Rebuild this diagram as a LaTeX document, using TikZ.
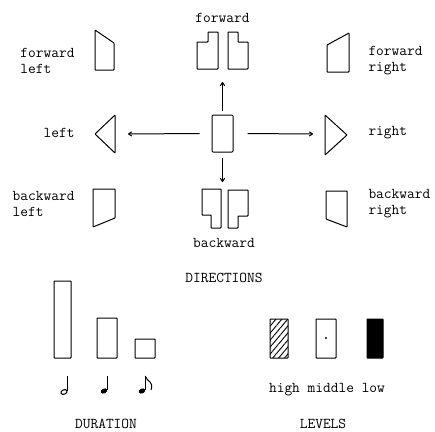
\documentclass[tikz,border=0pt]{standalone}
\usepackage{fontspec}
\usetikzlibrary{arrows.meta,patterns.meta}

\begin{document}
\begin{tikzpicture}[x=1pt, y=-1pt, line width=1pt,
    lbl/.style={font=\fontsize{15}{16}\selectfont\ttfamily, align=left, inner sep=0pt},
    arr/.style={-{To[length=4pt,width=5pt]}},
    shp/.style={rounded corners=0.6pt}]
    \useasboundingbox (0,0) rectangle (435,431);

    % directions
    \node (c) [draw, rounded corners=1pt, minimum width=21pt, minimum height=37pt, inner sep=0pt] at (222.5,133.5) {};
    \coordinate (fwd) at (222.5,69);
    \coordinate (bwd) at (222.5,189);
    \coordinate (lft) at (115,134);
    \coordinate (rgt) at (325,134);

    \draw [shp] (197,42) -- (208,42) -- (208,32) -- (218,32) -- (218,69) -- (197,69) -- cycle;
    \draw [shp] (228,32) -- (238,32) -- (238,42) -- (248,42) -- (248,69) -- (228,69) -- cycle;
    \draw [shp] (202,189) -- (221,189) -- (221,228) -- (211,228) -- (211,215) -- (202,215) -- cycle;
    \draw [shp] (228,190) -- (248,190) -- (248,216) -- (238,216) -- (238,228) -- (228,228) -- cycle;

    \draw [shp] (95,30) -- (114,43) -- (114,70) -- (95,70) -- cycle;
    \draw [shp] (115,115) -- (95,134) -- (115,153) -- cycle;
    \draw [shp] (93,189) -- (115,189) -- (115,218) -- (93,227) -- cycle;
    \draw [shp] (327,45) -- (349,33) -- (349,72) -- (327,72) -- cycle;
    \draw [shp] (325,115) -- (347,135) -- (325,155) -- cycle;
    \draw [shp] (326,191) -- (347,191) -- (347,227) -- (326,219) -- cycle;

    \draw [arr, shorten <=4pt, shorten >=13pt] (c.north) -- (fwd);
    \draw [arr, shorten <=5pt, shorten >=7pt] (c.south) -- (bwd);
    \draw [arr, shorten <=12pt, shorten >=13pt] (c.west) -- (lft);
    \draw [arr, shorten <=14pt, shorten >=12pt] (c.east) -- (rgt);

    \node (tf) [lbl] at (222.5,18) {forward};
    \node (tb) [lbl] at (224,243) {backward};
    \node (tfl) [lbl, anchor=east] at (75,61) {forward\\left};
    \node (tl) [lbl, anchor=east] at (75,133) {left};
    \node (tbl) [lbl, anchor=east] at (75,204) {backward\\left};
    \node (tfr) [lbl, anchor=west] at (368,61) {forward\\right};
    \node (tr) [lbl, anchor=west] at (368,133) {right};
    \node (tbr) [lbl, anchor=west] at (368,204) {backward\\right};
    \node (tdir) [lbl] at (224,278) {DIRECTIONS};

    % duration
    \draw [shp] (54,281) rectangle (71,358);
    \draw [shp] (97,318) rectangle (117,358);
    \draw [shp] (135,339) rectangle (155,358);
    \draw [line width=1.1pt, rotate around={25:(64,392)}] (64,392) ellipse (3.2pt and 2.2pt);
    \draw (67.2,391) -- (67.2,376);
    \fill [rotate around={25:(104,391)}] (104,391) ellipse (3.4pt and 2.4pt);
    \draw (107.2,390) -- (107.2,376);
    \fill [rotate around={25:(142,391)}] (142,391) ellipse (3.4pt and 2.4pt);
    \draw (145.2,390) -- (145.2,376);
    \draw (145.2,376) .. controls (147,382) and (154,381) .. (151,390);
    \node (tdur) [lbl] at (106,424) {DURATION};

    % levels
    \draw [shp, pattern={Lines[angle=50,distance=4.5pt,line width=0.9pt]}] (270,319) rectangle (288,358);
    \draw [shp] (316,319) rectangle (336,358);
    \fill (326,338) circle (1.2pt);
    \draw [shp, fill=black] (367,319) rectangle (383,358);
    \node (thml) [lbl] at (327,390) {high middle low};
    \node (tlev) [lbl] at (323,424) {LEVELS};
\end{tikzpicture}
\end{document}
